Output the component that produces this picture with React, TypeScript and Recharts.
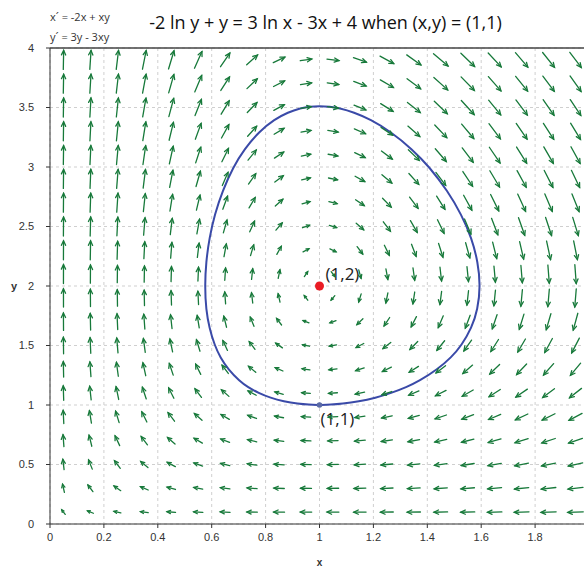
import React from 'react';
import { ComposedChart, XAxis, YAxis, CartesianGrid, Line, Scatter, ReferenceLine, Label } from 'recharts';

const TITLE = '-2 ln y + y = 3 ln x - 3x + 4 when (x,y) = (1,1)';
const EQ_X = 'x\u00b4 = -2x + xy';
const EQ_Y = 'y\u00b4 = 3y - 3xy';

const X_TICKS = [0, 0.2, 0.4, 0.6, 0.8, 1, 1.2, 1.4, 1.6, 1.8];
const Y_TICKS = [0, 0.5, 1, 1.5, 2, 2.5, 3, 3.5, 4];

// direction-field sample positions
const FIELD_X = [0.05, 0.15, 0.25, 0.35, 0.45, 0.55, 0.65, 0.75, 0.85, 0.95, 1.05, 1.15, 1.25, 1.35, 1.45, 1.55, 1.65, 1.75, 1.85, 1.95];
const FIELD_Y = [0.1, 0.3, 0.5, 0.7, 0.9, 1.1, 1.3, 1.5, 1.7, 1.9, 2.1, 2.3, 2.5, 2.7, 2.9, 3.1, 3.3, 3.5, 3.7, 3.9];
// system coefficients as printed: x' = -2x + xy, y' = 3y - 3xy
const COEF_X = [-2, 1];
const COEF_Y = [3, -3];

// solution curve through (1,1)
const CURVE_X = [1, 1.042, 1.083, 1.146, 1.207, 1.266, 1.323, 1.369, 1.4385, 1.489, 1.527, 1.565, 1.587, 1.597, 1.588, 1.565, 1.527, 1.475, 1.408, 1.344, 1.262, 1.189, 1.127, 1.073, 1.038, 1,
  0.963, 0.931, 0.883, 0.833, 0.777, 0.721, 0.68, 0.64, 0.611, 0.591, 0.579, 0.5745, 0.579, 0.591, 0.611, 0.632, 0.661, 0.704, 0.734, 0.774, 0.818, 0.867, 0.921, 0.96, 1];
const CURVE_Y = [1, 1.0025, 1.01, 1.03, 1.06, 1.1, 1.15, 1.2, 1.3, 1.4, 1.5, 1.65, 1.8, 2.0, 2.2, 2.4, 2.6, 2.8, 3.0, 3.15, 3.3, 3.4, 3.46, 3.495, 3.508, 3.513,
  3.508, 3.495, 3.46, 3.4, 3.3, 3.15, 3.0, 2.8, 2.6, 2.4, 2.2, 2.0, 1.8, 1.65, 1.5, 1.4, 1.3, 1.2, 1.15, 1.1, 1.06, 1.03, 1.01, 1.0025, 1];

const POINT_X = [1, 1];
const POINT_Y = [2, 1];
const POINT_LABELS = ['(1,2)', '(1,1)'];

const CHART_W = 600;
const CHART_H = 567;
const MARGIN = { top: 48, right: 11, bottom: 0, left: 0 };
const Y_AXIS_W = 50;
const X_AXIS_H = 43;
const PX_PER_X = (CHART_W - MARGIN.left - MARGIN.right - Y_AXIS_W) / 2;
const PX_PER_Y = (CHART_H - MARGIN.top - MARGIN.bottom - X_AXIS_H) / 4;

const fieldData = FIELD_X.flatMap((x) =>
  FIELD_Y.map((y) => ({
    x,
    y,
    dx: COEF_X[0] * x + COEF_X[1] * x * y,
    dy: COEF_Y[0] * y + COEF_Y[1] * x * y,
  }))
);

const curveData = CURVE_X.map((x, i) => ({ x, y: CURVE_Y[i] }));
const pointData = POINT_X.map((x, i) => ({ x, y: POINT_Y[i], label: POINT_LABELS[i] }));

const ARROW_COLOR = '#17793a';

const Arrow = (props: any) => {
  const { cx, cy, payload } = props;
  if (cx == null || cy == null) return null;
  const mag = Math.sqrt(payload.dx * payload.dx + payload.dy * payload.dy);
  const px = payload.dx * PX_PER_X;
  const py = -payload.dy * PX_PER_Y;
  const pl = Math.sqrt(px * px + py * py) || 1;
  const ux = px / pl;
  const uy = py / pl;
  const L = Math.min(19, 2 + 7 * Math.sqrt(mag));
  const x1 = cx - (ux * L) / 2;
  const y1 = cy - (uy * L) / 2;
  const x2 = cx + (ux * L) / 2;
  const y2 = cy + (uy * L) / 2;
  const h = Math.min(5, L * 0.45);
  const a = (25 * Math.PI) / 180;
  const bx = -ux;
  const by = -uy;
  const hx1 = x2 + h * (bx * Math.cos(a) - by * Math.sin(a));
  const hy1 = y2 + h * (bx * Math.sin(a) + by * Math.cos(a));
  const hx2 = x2 + h * (bx * Math.cos(-a) - by * Math.sin(-a));
  const hy2 = y2 + h * (bx * Math.sin(-a) + by * Math.cos(-a));
  return (
    <g stroke={ARROW_COLOR} strokeWidth={1.3} fill="none" strokeLinecap="round">
      <line x1={x1} y1={y1} x2={x2} y2={y2} />
      <polyline points={`${hx1},${hy1} ${x2},${y2} ${hx2},${hy2}`} />
    </g>
  );
};

const PointMark = (props: any) => {
  const { cx, cy, payload } = props;
  if (cx == null || cy == null) return null;
  const isRed = payload.label === '(1,2)';
  return (
    <g>
      <circle cx={cx} cy={cy} r={isRed ? 4.5 : 2.8} fill={isRed ? '#ea1c24' : '#5a6aa6'} />
      <text
        x={isRed ? cx + 6 : cx + 1}
        y={isRed ? cy - 6 : cy + 20}
        fontSize={17}
        fontFamily="'Open Sans', sans-serif"
        fill="#222"
      >
        {payload.label}
      </text>
    </g>
  );
};

export default function App() {
  return (
    <div style={{ position: 'absolute', left: 0, top: 0, width: 584, height: 567, overflow: 'hidden', background: '#fff' }}>
      <div style={{ position: 'absolute', left: 0, top: 0, width: CHART_W, height: CHART_H }}>
        <ComposedChart width={CHART_W} height={CHART_H} margin={MARGIN}>
          <CartesianGrid stroke="#cfcfcf" strokeDasharray="3 3" />
          <XAxis
            type="number"
            dataKey="x"
            domain={[0, 2]}
            ticks={X_TICKS}
            allowDataOverflow
            height={X_AXIS_H}
            tickSize={4}
            tickMargin={5}
            stroke="#333"
            tick={{ fontSize: 11, fill: '#333', fontFamily: "'Liberation Sans', Arial, sans-serif" }}
          >
            <Label value="x" position="insideBottom" offset={1} style={{ fontSize: 10, fontWeight: 'bold', fill: '#333', fontFamily: "'Liberation Sans', Arial, sans-serif" }} />
          </XAxis>
          <YAxis
            type="number"
            dataKey="y"
            domain={[0, 4]}
            ticks={Y_TICKS}
            allowDataOverflow
            width={Y_AXIS_W}
            tickSize={4}
            tickMargin={12}
            stroke="#333"
            tick={{ fontSize: 11, fill: '#333', fontFamily: "'Liberation Sans', Arial, sans-serif" }}
          >
            <Label value="y" position="insideLeft" offset={11} style={{ fontSize: 11, fontWeight: 'bold', fill: '#333', fontFamily: "'Liberation Sans', Arial, sans-serif" }} />
          </YAxis>
          <ReferenceLine y={4} stroke="#444" strokeWidth={1.5} />
          <Line
            data={curveData}
            dataKey="y"
            type="basis"
            stroke="#3a4aa8"
            strokeWidth={2}
            dot={false}
            activeDot={false}
            isAnimationActive={false}
          />
          <Scatter data={pointData} dataKey="y" shape={PointMark} isAnimationActive={false} />
          <Scatter data={fieldData} dataKey="y" shape={Arrow} isAnimationActive={false} />
        </ComposedChart>
      </div>
      <div style={{ position: 'absolute', left: 50, top: 9, fontSize: 11, color: '#333', fontFamily: "'Open Sans', sans-serif", whiteSpace: 'nowrap' }}>{EQ_X}</div>
      <div style={{ position: 'absolute', left: 50, top: 29, fontSize: 11, color: '#333', fontFamily: "'Open Sans', sans-serif", whiteSpace: 'nowrap' }}>{EQ_Y}</div>
      <div style={{ position: 'absolute', left: 0, width: 651, top: 10, textAlign: 'center', fontSize: 18, color: '#111', fontFamily: "'Open Sans', sans-serif", whiteSpace: 'nowrap' }}>{TITLE}</div>
    </div>
  );
}
